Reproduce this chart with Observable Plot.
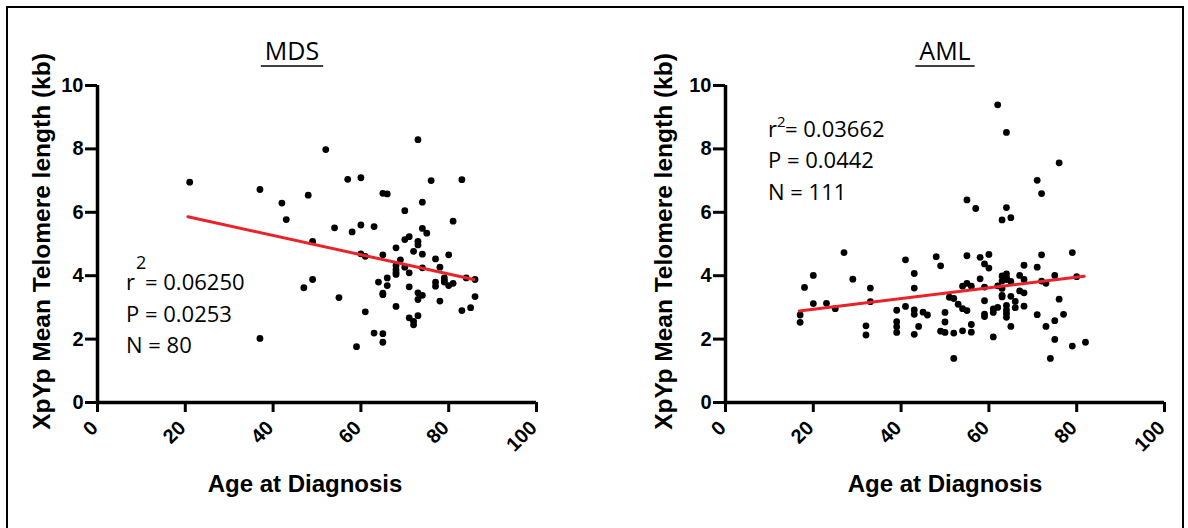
<!DOCTYPE html>
<html><head><meta charset="utf-8">
<script src="https://cdn.jsdelivr.net/npm/d3@7"></script>
<script src="https://cdn.jsdelivr.net/npm/@observablehq/plot@0.6"></script>
<style>
body{margin:0;background:#fff;width:1188px;height:528px;overflow:hidden;position:relative}
#frame{position:absolute;left:6px;top:6px;width:1178px;height:600px;border:2px solid #000;box-sizing:border-box}
.panel{position:absolute;top:0;width:594px;height:528px}
.panel svg{max-width:none !important}
</style></head>
<body>
<div id="frame"></div>
<div id="p1" class="panel" style="left:0px"></div>
<div id="p2" class="panel" style="left:628px"></div>
<script>
const xTicks = [0, 20, 40, 60, 80, 100];
const yTicks = [0, 2, 4, 6, 8, 10];
const xLabel = "Age at Diagnosis";
const yLabel = "XpYp Mean Telomere length (kb)";

// MDS
const mdsAge = [21,37,42,43,48,49,49,47,37,
  52,73,57,60,65,66,76,83,74,70,81,54,58,60,63,74,75,71,70,73,73,68,72,60,61,65,74,77,80,69,68,70,68,68,71,74,78,
  66,64,66,71,77,77,79,79,80,81,84,86,86,85,83,78,73,74,73,71,72,72,73,68,65,65,55,61,63,65,65,59,68,79];
const mdsTel = [6.95,6.72,6.29,5.77,6.54,5.08,3.88,3.62,2.02,
  7.98,8.29,7.04,7.09,6.60,6.58,7.00,7.03,6.32,6.05,5.72,5.51,5.38,5.60,5.55,5.49,5.34,5.23,5.14,5.08,4.97,4.88,4.77,4.69,4.61,4.66,4.68,4.53,4.66,4.50,4.32,4.27,4.19,4.04,4.09,4.25,4.27,
  3.93,3.80,3.69,3.65,3.80,3.67,3.93,3.80,3.69,3.76,3.93,3.88,3.34,2.99,2.90,3.20,3.46,3.38,3.25,2.67,2.56,2.45,2.74,3.03,3.45,3.40,3.31,2.86,2.19,2.17,1.90,1.76,4.10,3.85];
const mdsFitAge = [20.6, 85.7];
const mdsFitTel = [5.86, 3.88];
const mdsStats = ["0.06250", "P = 0.0253", "N = 80"];

// AML
const amlAge = [17,17,18,20,20,23,25,27,29,33,33,32,32,39,39,39,39,41,41,43,43,43,43,43,44,45,46,48,49,
  50,50,49,50,
  62,64,76,71,72,55,57,64,63,65,
  55,58,60,59,60,72,79,68,71,
  58,63,64,64,63,65,67,68,72,73,75,80,
  54,55,56,59,62,63,63,63,65,67,68,
  51,52,53,54,55,59,59,59,61,61,62,64,64,64,64,66,66,68,
  65,61,71,73,75,76,77,75,79,82,74,52,
  54,56,56,52,64];
const amlTel = [2.76,2.53,3.63,4.01,3.12,3.13,2.96,4.73,3.89,3.61,3.18,2.42,2.13,2.91,2.55,2.39,2.21,4.50,3.03,4.07,3.61,2.92,2.78,2.15,2.40,2.85,2.76,4.60,4.31,
  2.84,2.54,2.25,2.21,
  9.39,8.52,7.56,7.01,6.59,6.39,6.12,6.15,5.76,5.83,
  4.63,4.58,4.67,4.37,4.24,4.66,4.73,4.33,4.27,
  3.90,3.99,4.06,3.88,3.83,3.82,4.01,3.88,3.83,3.76,4.01,3.97,
  3.67,3.76,3.67,3.64,3.68,3.60,3.38,3.33,3.35,3.52,3.46,
  3.32,3.28,3.10,2.96,2.90,3.21,2.79,2.71,2.95,2.84,3.00,3.06,2.92,2.81,2.69,3.19,2.99,3.04,
  2.40,2.07,2.77,2.40,2.58,3.26,2.78,1.99,1.78,1.90,1.39,1.39,
  2.26,2.22,2.46,2.19,3.95];
const amlFitAge = [16.8, 81.7];
const amlFitTel = [2.89, 3.98];
const amlStats = ["0.03662", "P = 0.0442", "N = 111"];

const statFont = "'Open Sans', 'Noto Sans', sans-serif";

function panel(el, title, ages, tels, fitAges, fitTels, stats, cfg) {
  const pts = ages.map((a, i) => ({age: a, tel: tels[i]}));
  const fit = fitAges.map((a, i) => ({age: a, tel: fitTels[i]}));
  const svg = Plot.plot({
    width: 594, height: 528,
    marginLeft: 97, marginRight: 58, marginTop: 85, marginBottom: 126,
    style: {fontFamily: "'Liberation Sans', Arial, sans-serif", fontSize: "20px", fontWeight: "bold", color: "#000", background: "transparent", overflow: "visible"},
    x: {domain: [0, 100]},
    y: {domain: [0, 10]},
    marks: [
      Plot.axisX({ticks: xTicks, tickSize: 10, tickFormat: () => "", label: null, strokeWidth: 3}),
      Plot.axisX({ticks: xTicks, tickSize: 0, tickPadding: 22, dx: -3, tickRotate: -45, label: null}),
      Plot.axisY({ticks: yTicks, tickSize: 12, tickPadding: 2, label: null, strokeWidth: 3}),
      Plot.ruleX([0], {strokeWidth: 3.5}),
      Plot.ruleY([0], {strokeWidth: 3.5}),
      Plot.dot(pts, {x: "age", y: "tel", r: 3.4, fill: "#000", stroke: "none"}),
      Plot.line(fit, {x: "age", y: "tel", stroke: "#e8232a", strokeWidth: 3})
    ]
  });
  document.getElementById(el).appendChild(svg);
  const s = d3.select(svg);
  // y label
  s.append("text").attr("transform", `translate(${cfg.ylx},241.5) rotate(-90)`)
    .attr("text-anchor", "middle").attr("font-size", 24.5).attr("font-weight", "bold").text(yLabel);
  // x label
  s.append("text").attr("x", cfg.xlx).attr("y", 492).attr("text-anchor", "middle")
    .attr("font-size", 24).attr("font-weight", "bold").text(xLabel);
  // title
  const t = s.append("text").attr("x", cfg.tx).attr("y", 60).attr("text-anchor", "middle")
    .attr("font-family", statFont).attr("font-weight", "normal").attr("font-size", 25).text(title);
  const tw = t.node().getComputedTextLength();
  s.append("line").attr("x1", cfg.tx - tw / 2 - 4).attr("x2", cfg.tx + tw / 2 + 4)
    .attr("y1", 66).attr("y2", 66).attr("stroke", "#000").attr("stroke-width", 1.6);
  // stats
  const g = s.append("g").attr("font-family", statFont).attr("font-weight", "normal")
    .attr("font-size", 22).attr("text-anchor", "start");
  g.append("text").attr("x", cfg.sx).attr("y", cfg.sy).text("r");
  g.append("text").attr("x", cfg.sx + cfg.supdx).attr("y", cfg.sy - cfg.supdy).attr("font-size", cfg.supfs).text("2");
  g.append("text").attr("x", cfg.sx + cfg.eqdx).attr("y", cfg.sy).text("= " + stats[0]);
  g.append("text").attr("x", cfg.sx).attr("y", cfg.sy + 31.5).text(stats[1]);
  g.append("text").attr("x", cfg.sx).attr("y", cfg.sy + 63).text(stats[2]);
}

panel("p1", "MDS", mdsAge, mdsTel, mdsFitAge, mdsFitTel, mdsStats,
  {ylx: 50, xlx: 305, tx: 292, sx: 126, sy: 290, supdx: 10, supdy: 21, supfs: 18, eqdx: 19});
panel("p2", "AML", amlAge, amlTel, amlFitAge, amlFitTel, amlStats,
  {ylx: 44, xlx: 317, tx: 317, sx: 140, sy: 136.5, supdx: 9, supdy: 10, supfs: 15, eqdx: 17});
</script>
</body></html>
